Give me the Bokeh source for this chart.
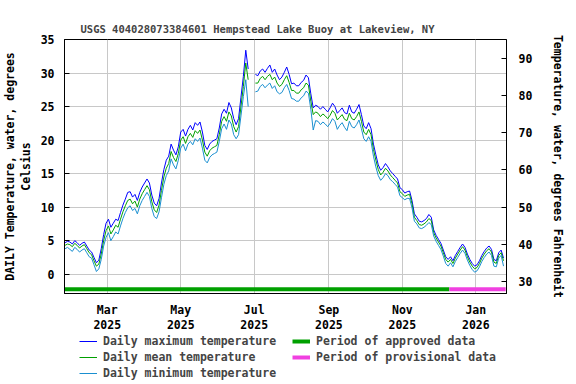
import numpy as np
import pandas as pd
from bokeh.plotting import figure
from bokeh.layouts import column
from bokeh.models import (Range1d, LinearAxis, FixedTicker, DatetimeTickFormatter,
                          Legend, LegendItem)
from bokeh.embed import file_html
from bokeh.resources import INLINE

nan = float("nan")

# ---------------- data (every 2nd day from 2025-01-25) ----
start_date = "2025-01-25"
n_points = 183

temp_mean = [
    4.3, 4.5, 4.4, 4.1, 4.6, 4.3, 3.9, 4.2, 4.4, 3.8,
    3.2, 2.9, 2.0, 1.2, 1.5, 3.0, 5.0, 6.5, 7.2, 6.0,
    6.6, 7.3, 7.0, 8.2, 9.3, 10.2, 11.0, 11.2, 10.5, 10.9,
    10.0, 11.2, 12.0, 12.6, 13.2, 12.6, 10.8, 9.6, 9.2, 10.3,
    12.5, 14.5, 15.8, 16.5, 18.3, 17.4, 16.8, 18.0, 20.0, 20.5,
    19.5, 20.5, 21.0, 20.4, 21.4, 21.0, 21.5, 20.0, 18.2, 17.6,
    18.4, 18.8, 19.0, 19.2, 20.8, 22.8, 23.5, 22.8, 24.2, 23.6,
    22.0, 21.2, 22.0, 25.0, 28.0, 31.5, 29.0, nan, nan, 28.5,
    28.5, 29.2, 29.5, 29.0, 29.5, 29.8, 29.0, 29.4, 28.5, 28.0,
    28.3, 29.0, 29.6, 28.6, 27.4, 27.4, 27.0, 27.0, 27.5, 27.8,
    28.5, 28.2, 25.8, 23.8, 24.2, 24.0, 23.5, 23.9, 23.6, 23.2,
    23.7, 24.4, 24.0, 23.0, 23.4, 23.8, 23.1, 22.9, 24.0, 23.2,
    23.0, 23.5, 24.2, 22.8, 21.2, 20.8, 21.6, 20.8, 18.6, 17.0,
    15.6, 14.8, 15.2, 15.8, 15.4, 14.8, 14.4, 14.0, 13.6, 12.3,
    12.0, 11.6, 11.8, 11.9, 10.5, 8.5, 8.0, 7.4, 7.3, 7.5,
    7.8, 8.3, 8.0, 6.2, 5.4, 4.8, 4.2, 3.2, 2.2, 1.8,
    2.2, 1.6, 2.4, 3.0, 3.6, 4.1, 3.6, 2.6, 1.8, 1.2,
    0.8, 1.0, 1.6, 2.4, 3.0, 3.5, 3.8, 3.3, 1.8, 1.6,
    2.8, 3.2, 2.0,
]

temp_max = [
    4.7, 4.9, 4.8, 4.5, 5.0, 4.7, 4.3, 4.6, 4.8, 4.2,
    3.6, 3.3, 2.5, 1.7, 2.1, 3.8, 5.9, 7.6, 8.2, 7.0,
    7.6, 8.2, 8.0, 9.2, 10.3, 11.2, 12.2, 12.3, 11.5, 11.9,
    11.0, 12.2, 13.0, 13.6, 14.2, 13.6, 11.8, 10.6, 10.2, 11.3,
    13.6, 15.6, 17.0, 17.6, 19.4, 18.5, 17.8, 19.0, 21.2, 21.6,
    20.6, 21.6, 22.2, 21.5, 22.6, 22.2, 22.7, 21.2, 19.2, 18.6,
    19.4, 19.8, 20.0, 20.2, 21.8, 23.9, 24.6, 24.0, 25.6, 24.8,
    23.2, 22.3, 23.2, 26.4, 29.5, 33.4, 30.6, nan, nan, 29.8,
    29.6, 30.3, 30.6, 30.1, 30.7, 31.2, 30.1, 30.6, 29.7, 29.0,
    29.4, 30.1, 30.9, 29.8, 28.4, 28.5, 28.1, 28.1, 28.6, 28.9,
    29.7, 29.3, 26.9, 24.8, 25.2, 25.0, 24.6, 25.0, 24.6, 24.2,
    24.8, 25.5, 25.0, 24.0, 24.4, 24.8, 24.1, 23.9, 25.2, 24.2,
    24.0, 24.6, 25.3, 23.8, 22.1, 21.7, 22.6, 21.7, 19.4, 17.8,
    16.3, 15.5, 15.9, 16.5, 16.0, 15.4, 15.0, 14.6, 14.2, 12.9,
    12.6, 12.1, 12.3, 12.4, 11.0, 9.0, 8.5, 7.9, 7.8, 8.0,
    8.3, 8.9, 8.5, 6.6, 5.8, 5.2, 4.6, 3.6, 2.6, 2.2,
    2.6, 2.0, 2.8, 3.4, 4.0, 4.5, 4.0, 3.0, 2.2, 1.6,
    1.2, 1.4, 2.0, 2.8, 3.4, 3.9, 4.2, 3.7, 2.2, 2.0,
    3.2, 3.6, 2.4,
]

temp_min = [
    3.8, 4.0, 3.7, 3.4, 4.0, 3.7, 3.3, 3.6, 3.8, 3.2,
    2.6, 2.4, 1.4, 0.4, 0.8, 2.2, 4.2, 5.5, 6.2, 5.0,
    5.6, 6.3, 6.0, 7.2, 8.3, 9.2, 9.9, 10.2, 9.5, 9.8,
    9.0, 10.2, 11.0, 11.6, 12.2, 11.6, 9.8, 8.6, 8.3, 9.3,
    11.4, 13.4, 14.7, 15.4, 17.2, 16.3, 15.7, 17.0, 18.8, 19.4,
    18.4, 19.4, 19.8, 19.3, 20.2, 19.8, 20.3, 18.8, 17.0, 16.6,
    17.4, 17.8, 18.0, 18.2, 19.8, 21.7, 22.4, 21.6, 23.0, 22.4,
    20.8, 20.2, 20.8, 23.6, 26.5, 29.0, 25.0, nan, nan, 27.2,
    27.3, 28.0, 28.3, 27.8, 28.2, 28.5, 27.7, 28.1, 27.2, 26.9,
    27.1, 27.8, 28.3, 27.4, 26.2, 26.1, 25.8, 25.8, 26.3, 26.6,
    27.3, 27.0, 24.6, 21.5, 22.9, 22.8, 22.3, 22.7, 22.4, 22.0,
    22.5, 23.2, 22.8, 21.6, 22.2, 22.6, 21.9, 21.4, 22.8, 22.0,
    21.8, 22.3, 23.0, 21.7, 20.2, 19.8, 20.5, 19.8, 17.6, 16.0,
    14.7, 14.0, 14.4, 15.0, 14.7, 14.1, 13.8, 13.4, 13.0, 11.7,
    11.4, 11.1, 11.3, 11.3, 9.9, 7.9, 7.5, 6.9, 6.8, 7.0,
    7.3, 7.7, 7.4, 5.7, 4.9, 4.3, 3.7, 2.7, 1.6, 1.2,
    1.7, 1.1, 1.9, 2.5, 3.1, 3.6, 3.1, 2.1, 1.3, 0.7,
    0.3, 0.5, 1.1, 1.9, 2.5, 3.0, 3.3, 2.8, 1.2, 1.1,
    2.4, 2.8, 1.2,
]

approved_period = ["2025-01-24 12:00", "2025-12-10 00:00"]
provisional_period = ["2025-12-10 00:00", "2026-01-25 18:00"]

x_tick_dates = ["2025-03-01", "2025-05-01", "2025-07-01",
                "2025-09-01", "2025-11-01", "2026-01-01"]
celsius_ticks = [0, 5, 10, 15, 20, 25, 30, 35]
fahrenheit_ticks = [30, 40, 50, 60, 70, 80, 90]

title_text = "USGS 404028073384601 Hempstead Lake Buoy at Lakeview, NY"
left_label = "DAILY Temperature, water, degrees\nCelsius"
right_label = "Temperature, water, degrees Fahrenheit"
legend_labels = ["Daily maximum temperature", "Daily mean temperature",
                 "Daily minimum temperature", "Period of approved data",
                 "Period of provisional data"]

# ---------------- styles ----------------
FONT = "DejaVu Sans Mono"
FS = "11.5px"
C_MAX, C_MEAN, C_MIN = "#0000FF", "#00A000", "#1A8FD0"
C_APP, C_PROV = "#00A000", "#F040E0"

# ---------------- main plot ----------------
dates = pd.date_range(start_date, periods=n_points, freq="2D")

y_lo, y_hi = -2.88, 35.0
p = figure(width=576, height=334, x_axis_type="datetime",
           output_backend="svg", toolbar_location=None,
           x_range=Range1d(pd.Timestamp("2025-01-24 12:00"), pd.Timestamp("2026-01-26 11:00")),
           y_range=Range1d(y_lo, y_hi),
           min_border_left=64, min_border_right=70, min_border_top=39,
           min_border_bottom=38)

p.title.text = title_text
p.title.text_font = FONT
p.title.text_font_size = "10.5px"
p.title.text_font_style = "bold"
p.title.align = "left"
p.title.offset = 16

p.outline_line_color = "black"
p.outline_line_width = 1
p.background_fill_color = "white"
p.border_fill_color = "white"

p.extra_y_ranges = {"F": Range1d(y_lo * 9 / 5 + 32, y_hi * 9 / 5 + 32)}

laxis = p.left[0]
baxis = p.below[0]

xticks = [pd.Timestamp(d).timestamp() * 1000 for d in x_tick_dates]
baxis.ticker = FixedTicker(ticks=xticks)
baxis.formatter = DatetimeTickFormatter(
    milliseconds="%b\n%Y", seconds="%b\n%Y", minsec="%b\n%Y", minutes="%b\n%Y",
    hourmin="%b\n%Y", hours="%b\n%Y", days="%b\n%Y", months="%b\n%Y", years="%b\n%Y")
p.xgrid.ticker = FixedTicker(ticks=xticks)

laxis.ticker = FixedTicker(ticks=celsius_ticks)
p.ygrid.ticker = FixedTicker(ticks=celsius_ticks)

p.xgrid.grid_line_color = "#C8C8C8"
p.ygrid.grid_line_color = "#C8C8C8"
p.xgrid.grid_line_width = 1
p.ygrid.grid_line_width = 1

raxis = LinearAxis(y_range_name="F", ticker=FixedTicker(ticks=fahrenheit_ticks),
                   axis_label=right_label)
p.add_layout(raxis, "right")

for ax in [baxis, laxis, raxis]:
    ax.axis_line_color = "black"
    ax.major_tick_line_color = "black"
    ax.minor_tick_line_color = None
    ax.major_label_text_font = FONT
    ax.major_label_text_font_size = FS
    ax.major_label_text_font_style = "bold"
    ax.major_label_text_color = "black"
    ax.major_label_text_line_height = 1.1
    ax.axis_label_text_font = FONT
    ax.axis_label_text_font_size = FS
    ax.axis_label_text_font_style = "bold"
    ax.axis_label_text_color = "black"
    ax.axis_label_text_line_height = 1.1

baxis.major_tick_out = 0
baxis.major_tick_in = 0
baxis.major_label_standoff = 9
laxis.major_tick_in = 5
laxis.major_tick_out = 0
laxis.major_label_standoff = 10
laxis.axis_label = left_label
laxis.axis_label_standoff = 5
raxis.major_tick_in = 5
raxis.major_tick_out = 0
raxis.major_label_standoff = 12
raxis.axis_label_standoff = 16

r_max = p.line(dates, temp_max, line_color=C_MAX, line_width=1)
r_mean = p.line(dates, temp_mean, line_color=C_MEAN, line_width=1)
r_min = p.line(dates, temp_min, line_color=C_MIN, line_width=1)

bar_level = -2.25
p.line(pd.to_datetime(approved_period, format="%Y-%m-%d %H:%M"),
       [bar_level, bar_level], line_color=C_APP, line_width=4)
p.line(pd.to_datetime(provisional_period, format="%Y-%m-%d %H:%M"),
       [bar_level, bar_level], line_color=C_PROV, line_width=4)

# ---------------- legend strip below the plot ----------------
# (its frame is aligned with the main plot's frame by the column layout)
lg = figure(width=576, height=50, output_backend="svg", toolbar_location=None,
            x_range=Range1d(0, 1), y_range=Range1d(0, 1),
            x_axis_location=None, y_axis_location=None,
            min_border_left=0, min_border_right=0, min_border_top=0,
            min_border_bottom=0)
lg.outline_line_color = None
lg.xgrid.visible = False
lg.ygrid.visible = False
lg.background_fill_color = "white"
lg.border_fill_color = "white"

# legend proxies, kept outside the visible range of the strip
proxy_x = [5, 6]
proxy_y = [5, 6]
g_max = lg.line(proxy_x, proxy_y, line_color=C_MAX, line_width=1)
g_mean = lg.line(proxy_x, proxy_y, line_color=C_MEAN, line_width=1)
g_min = lg.line(proxy_x, proxy_y, line_color=C_MIN, line_width=1)
g_app = lg.line(proxy_x, proxy_y, line_color=C_APP, line_width=4)
g_prov = lg.line(proxy_x, proxy_y, line_color=C_PROV, line_width=4)

legend = Legend(items=[
    LegendItem(label=legend_labels[0], renderers=[g_max]),
    LegendItem(label=legend_labels[1], renderers=[g_mean]),
    LegendItem(label=legend_labels[2], renderers=[g_min]),
    LegendItem(label=legend_labels[3], renderers=[g_app]),
    LegendItem(label=legend_labels[4], renderers=[g_prov]),
], nrows=3, orientation="vertical")
legend.location = (15, 3)
legend.margin = 0
legend.padding = 0
legend.spacing = 0
legend.glyph_width = 18
legend.glyph_height = 16
legend.label_height = 16
legend.label_width = 189
legend.label_standoff = 6
legend.label_text_font = FONT
legend.label_text_font_size = FS
legend.label_text_font_style = "bold"
legend.border_line_alpha = 0
legend.background_fill_alpha = 0
lg.add_layout(legend, "center")

layout = column(p, lg, spacing=0)
open("out.html", "w").write(file_html(layout, INLINE))
